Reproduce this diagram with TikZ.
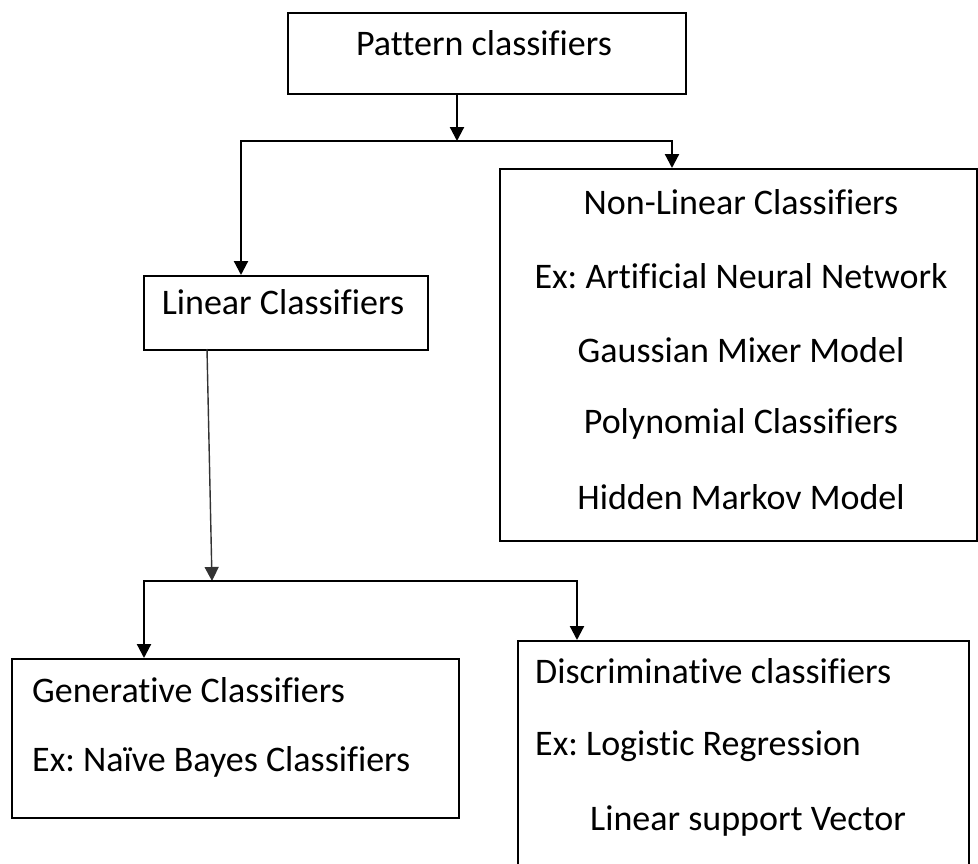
\documentclass[tikz,border=0pt]{standalone}
\usepackage{fontspec}
\setmainfont{Carlito}[Ligatures=NoCommon]
\usetikzlibrary{arrows.meta}
\frenchspacing
\begin{document}
\begin{tikzpicture}[x=1pt,y=-1pt,
  box/.style={draw=black,line width=2.2pt,rectangle,inner sep=0pt,anchor=north west},
  lbl/.style={font=\fontsize{36}{43}\selectfont,inner sep=0pt,text=black},
  tip/.style={-{Triangle[length=14pt,width=14pt]}},
  arr/.style={line width=2.2pt,tip}]
\useasboundingbox (0,0) rectangle (978,863);
\clip (0,0) rectangle (978,863);
% boxes
\node[box,minimum width=398pt,minimum height=81pt] (pat) at (287,12) {};
\node[box,minimum width=284pt,minimum height=74pt] (lin) at (143,275) {};
\node[box,minimum width=477pt,minimum height=372pt] (non) at (499,168) {};
\node[box,minimum width=447pt,minimum height=159pt] (gen) at (11,658) {};
\node[box,minimum width=451pt,minimum height=260pt] (dis) at (517,640) {};
% labels
\node[lbl] (tpat) at (484,43) {Pattern classifiers};
\node[lbl] (tlin) at (283,302) {Linear Classifiers};
\node[lbl] (tn1) at (741,202) {Non-Linear Classifiers};
\node[lbl] (tn2) at (741,276) {Ex: Artificial Neural Network};
\node[lbl] (tn3) at (741,350) {Gaussian Mixer Model};
\node[lbl] (tn4) at (741,424) {Polynomial Classifiers};
\node[lbl] (tn5) at (741,497) {Hidden Markov Model};
\node[lbl,anchor=west] (tg1) at (32,690) {Generative Classifiers};
\node[lbl,anchor=west] (tg2) at (32,762) {Ex: Naïve Bayes Classifiers};
\node[lbl,anchor=west] (td1) at (535,671) {Discriminative classifiers};
\node[lbl,anchor=west] (td2) at (535,746) {Ex: Logistic Regression};
\node[lbl,anchor=west] (td3) at (590,821) {Linear support Vector};
% junctions
\coordinate (j1) at (457,141);
\coordinate (j2) at (212,581);
% top level connectors
\draw[arr] (pat.south -| j1) -- (j1);
\draw[arr] (j1) -| (241,275);
\draw[arr] (j1) -| (672,168);
% second level connectors
\draw[line width=1.4pt,draw=black!80,tip] (207,349) -- (j2);
\draw[arr] (j2) -| (144,658);
\draw[arr] (j2) -| (577,640);
\end{tikzpicture}
\end{document}
